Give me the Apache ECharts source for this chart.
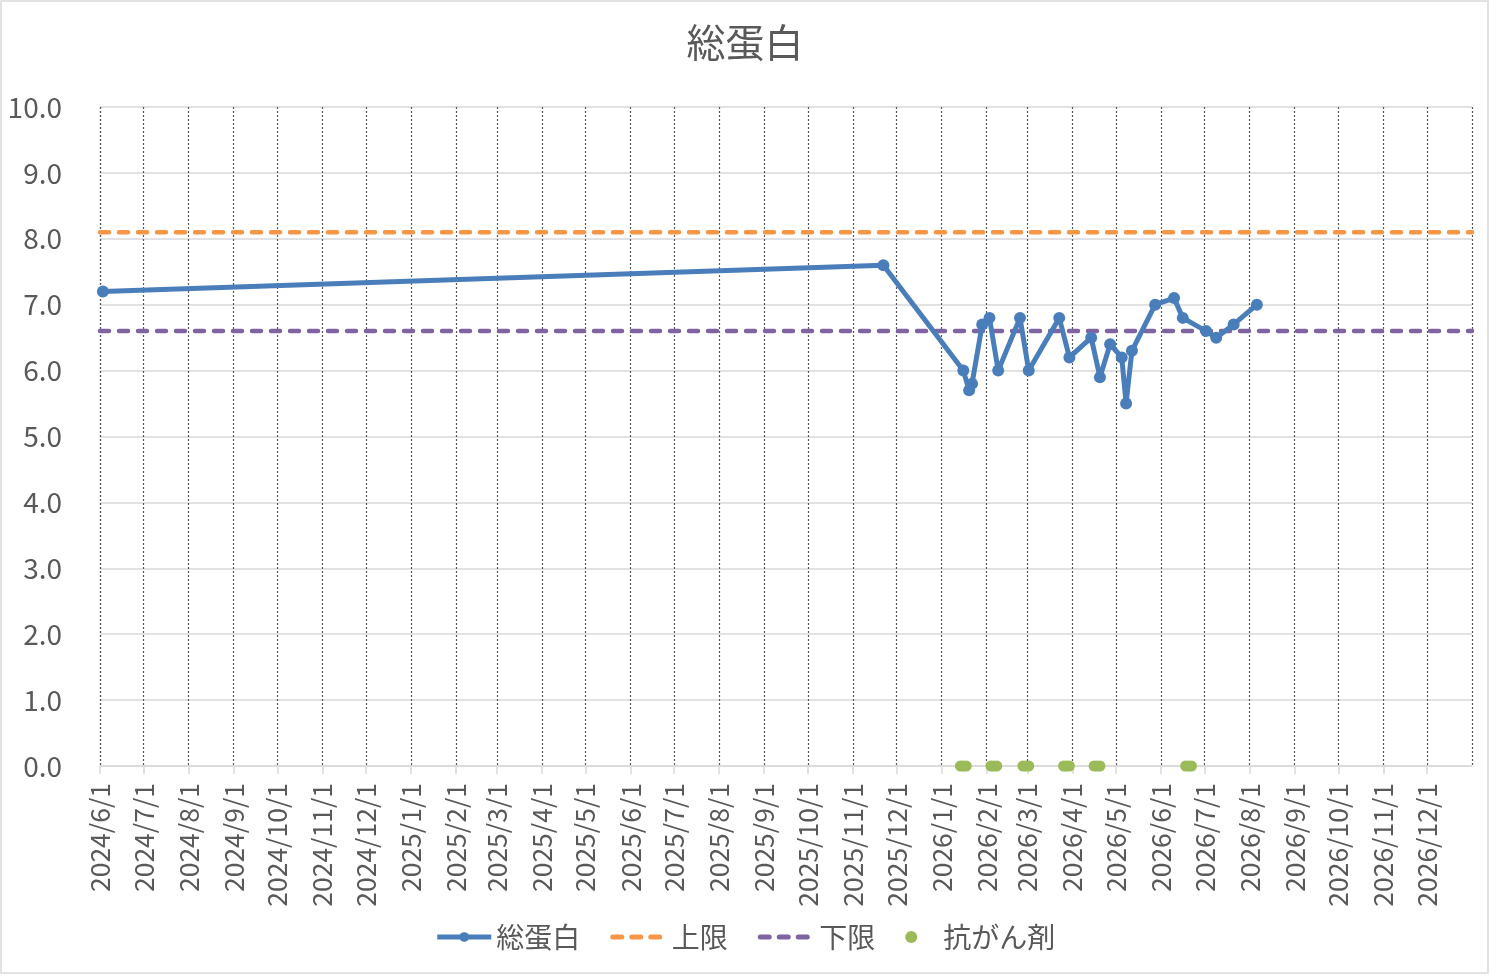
<!DOCTYPE html>
<html>
<head>
<meta charset="utf-8">
<script src="https://cdn.jsdelivr.net/npm/echarts@6/dist/echarts.min.js"></script>
<style>
  html, body { margin: 0; padding: 0; background: #fff; }
  #chart { width: 1490px; height: 976px; }
</style>
</head>
<body>
<div id="chart"></div>
<script>
// 総蛋白 検査値
var tpDates = ['2024/6/3', '2025/11/22', '2026/1/16', '2026/1/20', '2026/1/22', '2026/1/29',
  '2026/2/3', '2026/2/9', '2026/2/24', '2026/3/2', '2026/3/23', '2026/3/30', '2026/4/14',
  '2026/4/20', '2026/4/27', '2026/5/5', '2026/5/8', '2026/5/12', '2026/5/28', '2026/6/10',
  '2026/6/16', '2026/7/2', '2026/7/9', '2026/7/21', '2026/8/6']
var tpValues = [7.2, 7.6, 6.0, 5.7, 5.8, 6.7, 6.8, 6.0, 6.8, 6.0, 6.8, 6.2, 6.5,
  5.9, 6.4, 6.2, 5.5, 6.3, 7.0, 7.1, 6.8, 6.6, 6.5, 6.7, 7.0]

// 基準値
var upperLimit = 8.1
var lowerLimit = 6.6

// 抗がん剤 投与日
var chemoDates = ['2026/1/14', '2026/1/16', '2026/1/18',
  '2026/2/4', '2026/2/6', '2026/2/8',
  '2026/2/26', '2026/2/28', '2026/3/2',
  '2026/3/26', '2026/3/28', '2026/3/30',
  '2026/4/16', '2026/4/18', '2026/4/20',
  '2026/6/18', '2026/6/20', '2026/6/22']

var xMin = '2024/6/1'
var xMax = '2027/1/1'

function toTime(s) {
  var p = s.split('/')
  return new Date(+p[0], +p[1] - 1, +p[2]).getTime()
}

function fmtDate(v) {
  var d = new Date(v)
  return d.getFullYear() + '/' + (d.getMonth() + 1) + '/' + d.getDate()
}

var gray = '#595959'
var font = "'Noto Sans CJK JP', 'Noto Sans', sans-serif"
var month = 30 * 24 * 3600 * 1000

var chart = echarts.init(document.getElementById('chart'))

var option = {
  animation: false,
  textStyle: { fontFamily: font },
  title: {
    text: '総蛋白',
    left: 'center',
    top: 18,
    textStyle: { fontSize: 39, fontWeight: 'normal', color: gray, fontFamily: font }
  },
  graphic: [{
    type: 'rect',
    shape: { x: 1, y: 1, width: 1487, height: 972 },
    style: { fill: 'none', stroke: '#d9d9d9', lineWidth: 1.5 },
    silent: true
  }],
  legend: {
    bottom: 20,
    left: 'center',
    itemWidth: 54,
    itemHeight: 12,
    itemGap: 30,
    lineStyle: { width: 5 },
    textStyle: { fontSize: 28, color: gray, fontFamily: font },
    data: [
      '総蛋白',
      { name: '上限', itemStyle: { opacity: 0 } },
      { name: '下限', itemStyle: { opacity: 0 } },
      '抗がん剤'
    ]
  },
  grid: { left: 100, right: 18, top: 107, bottom: 210, containLabel: false },
  xAxis: {
    type: 'time',
    min: toTime(xMin),
    max: toTime(xMax),
    minInterval: month,
    maxInterval: month,
    axisLine: { show: true, lineStyle: { color: '#d9d9d9', width: 1.5 } },
    axisTick: { show: true, length: 8, lineStyle: { color: '#d9d9d9', width: 1.5 } },
    axisLabel: {
      rotate: 90,
      margin: 17,
      fontSize: 26.5,
      color: gray,
      showMaxLabel: false,
      hideOverlap: false,
      formatter: function (v) { return fmtDate(v) }
    },
    splitLine: { show: true, lineStyle: { color: gray, width: 1.2, type: [2, 2] } }
  },
  yAxis: {
    type: 'value',
    min: 0,
    max: 10,
    interval: 1,
    axisLine: { show: false },
    axisTick: { show: false },
    axisLabel: {
      fontSize: 28,
      color: gray,
      margin: 38,
      formatter: function (v) { return v.toFixed(1) }
    },
    splitLine: { show: true, lineStyle: { color: '#d9d9d9', width: 1.5 } }
  },
  series: [
    {
      name: '総蛋白',
      type: 'line',
      data: tpDates.map(function (d, i) { return [toTime(d), tpValues[i]] }),
      symbol: 'circle',
      symbolSize: 12,
      color: '#4a7ebb',
      lineStyle: { width: 5, color: '#4a7ebb' },
      itemStyle: { color: '#4a7ebb' },
      clip: false,
      z: 5
    },
    {
      name: '上限',
      type: 'line',
      data: [[toTime(xMin), upperLimit], [toTime(xMax), upperLimit]],
      symbol: 'none',
      color: '#f79646',
      lineStyle: { width: 4.5, color: '#f79646', type: [9, 10], cap: 'round' },
      z: 3
    },
    {
      name: '下限',
      type: 'line',
      data: [[toTime(xMin), lowerLimit], [toTime(xMax), lowerLimit]],
      symbol: 'none',
      color: '#8064a2',
      lineStyle: { width: 4.5, color: '#8064a2', type: [9, 10], cap: 'round' },
      z: 3
    },
    {
      name: '抗がん剤',
      type: 'scatter',
      data: chemoDates.map(function (d) { return [toTime(d), 0] }),
      symbol: 'circle',
      symbolSize: 11,
      color: '#9bbb59',
      itemStyle: { color: '#9bbb59', opacity: 1 },
      clip: false,
      z: 4
    }
  ]
}

chart.setOption(option)
</script>
</body>
</html>
